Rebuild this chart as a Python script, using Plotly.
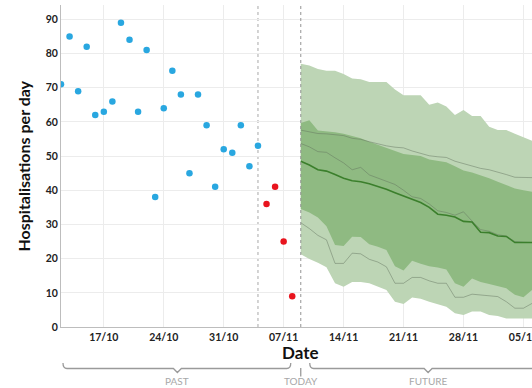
import pandas as pd
import plotly.graph_objects as go

# Observed daily hospitalisations
obs_dates = pd.date_range("2020-10-12", "2020-11-04")
obs_values = [71, 85, 69, 82, 62, 63, 66, 89, 84, 63, 81, 38,
              64, 75, 68, 45, 68, 59, 41, 52, 51, 59, 47, 53]

# Most recent (incomplete) days
recent_dates = pd.date_range("2020-11-05", "2020-11-08")
recent_values = [36, 41, 25, 9]

# Forecast from today onwards
fc_dates = pd.date_range("2020-11-09", "2020-12-06")
outer_upper = [77, 76.5, 75.5, 75, 75, 74, 72.7, 72.5, 71.7, 71.7, 71.7, 69.5, 67.8, 67.8,
               67.8, 65, 65.7, 64.5, 62, 63.5, 61.7, 61.7, 58.6, 57.6, 57.6, 56.5, 55.5, 54.5]
outer_lower = [21.3, 19.9, 18.8, 17.5, 12.8, 11.8, 13.2, 13.2, 12.8, 11.8, 10.8, 7.4, 6.7, 8.6,
               8.3, 7.4, 6.7, 5.9, 4, 3.5, 4.5, 4.5, 3.5, 3.2, 2.5, 2.5, 2.5, 2.5]
inner_upper = [59.7, 60.5, 57.5, 57.3, 57, 56.5, 55.8, 55.2, 54.2, 53.3, 52.3, 51.5, 50.6, 50.3,
               50, 49, 48.6, 48.2, 47, 45.8, 45.2, 44.4, 43.5, 42.5, 41.5, 40.5, 40, 39.6]
inner_lower = [34.5, 33.5, 32, 29.5, 24, 23.7, 26.4, 26.3, 24.2, 23.5, 22.5, 17.8, 16.5, 19.4,
               18.5, 17.8, 17.4, 16.8, 12.8, 11.8, 14.2, 13.2, 12.6, 12, 11.3, 9.4, 8.7, 10.8]
median = [48.5, 47.4, 46, 45.6, 44.6, 43.5, 42.8, 42.5, 41.9, 41.2, 40.3, 39.3, 38.4, 37.4,
          36.4, 35, 33, 32.7, 32.2, 30.9, 30.7, 27.7, 27.6, 26.6, 26.5, 24.7, 24.7, 24.7]
mean_line = [53.7, 52.7, 51.3, 51.1, 49.5, 48, 46, 46.7, 44.5, 43.5, 42.5, 41.7, 40, 38.1,
             37.6, 36, 34, 33.5, 32.7, 33.7, 31, 28.5, 28, 27, 26.6, 25, 24.8, 24.7]
high_line = [57.6, 57.2, 56.6, 56.5, 56.3, 56, 55.2, 54.9, 54.2, 53.5, 53, 52.6, 52.4, 51.5,
             50.8, 50.1, 49.8, 49.6, 48.5, 47.8, 47.2, 46.4, 46, 45.4, 44.6, 43.8, 43.7, 43.7]
low_line = [30.5, 28.8, 26.8, 25.5, 18.6, 18.6, 21.6, 21.4, 19.8, 19, 17.6, 12.8, 12.8, 14.5,
            14.5, 13.5, 12.8, 12.8, 8.7, 8.7, 9.6, 9.3, 9, 8.9, 7.4, 5.5, 5.5, 6.9]

tick_dates = pd.date_range("2020-10-17", "2020-12-05", freq="7D")
x_start, x_end = pd.Timestamp("2020-10-12"), pd.Timestamp("2020-12-06")
data_cutoff = pd.Timestamp("2020-11-04")
today = pd.Timestamp("2020-11-09")

FONT = "Lato"
LIGHT = "#bdd5b5"
DARK = "#8fba82"
THIN = "rgba(95,110,90,0.45)"

fig = go.Figure()


def band(upper, lower, color):
    fig.add_trace(go.Scatter(x=fc_dates, y=upper, mode="lines", line=dict(width=0),
                             hoverinfo="skip", showlegend=False))
    fig.add_trace(go.Scatter(x=fc_dates, y=lower, mode="lines", line=dict(width=0),
                             fill="tonexty", fillcolor=color, hoverinfo="skip",
                             showlegend=False))


band(outer_upper, outer_lower, LIGHT)
band(inner_upper, inner_lower, DARK)

for series in (high_line, mean_line, low_line):
    fig.add_trace(go.Scatter(x=fc_dates, y=series, mode="lines",
                             line=dict(color=THIN, width=1), showlegend=False))

fig.add_trace(go.Scatter(x=fc_dates, y=median, mode="lines",
                         line=dict(color="#3b7f2c", width=1.6), showlegend=False))

fig.add_trace(go.Scatter(x=obs_dates, y=obs_values, mode="markers",
                         marker=dict(color="#29a7e0", size=6.5), showlegend=False))
fig.add_trace(go.Scatter(x=recent_dates, y=recent_values, mode="markers",
                         marker=dict(color="#e8141e", size=6.5), showlegend=False))

# Vertical reference lines
fig.add_shape(type="line", xref="x", yref="paper", x0=data_cutoff, x1=data_cutoff,
              y0=0, y1=1, line=dict(color="#bdbdbd", width=1.3, dash="dot"), layer="below")
fig.add_shape(type="line", xref="x", yref="paper", x0=today, x1=today,
              y0=0, y1=1, line=dict(color="#949494", width=1, dash="dot"), layer="above")

# Layout geometry (pixels) used for the annotations under the axis
W, H = 532, 388
ML, MR, MT, MB = 60.5, 0, 5, 61
PW, PH = W - ML - MR, H - MT - MB


def px(x):
    return (x - ML) / PW


def py(y):
    return (H - MB - y) / PH


def brace(x0, x1, xm, ytop=363, ymid=368.5, ytip=372.5):
    r = 4
    path = (f"M {px(x0)},{py(ytop)} Q {px(x0)},{py(ymid)} {px(x0 + r)},{py(ymid)} "
            f"L {px(xm - 4)},{py(ymid)} L {px(xm)},{py(ytip)} L {px(xm + 4)},{py(ymid)} "
            f"L {px(x1 - r)},{py(ymid)} Q {px(x1)},{py(ymid)} {px(x1)},{py(ytop)}")
    fig.add_shape(type="path", xref="paper", yref="paper", path=path,
                  line=dict(color="#9a9a9a", width=1.3))


brace(62.5, 290.5, 177)
brace(309.5, 560, 428)
fig.add_shape(type="line", xref="paper", yref="paper", x0=px(300.5), x1=px(300.5),
              y0=py(368), y1=py(376.5), line=dict(color="#9a9a9a", width=1.3))

for label, xc in (("PAST", 177), ("TODAY", 300.5), ("FUTURE", 428)):
    fig.add_annotation(x=px(xc), y=py(381), xref="paper", yref="paper", text=label,
                       showarrow=False, xanchor="center", yanchor="middle",
                       font=dict(family=FONT, size=10, color="#a8a8a8"))

fig.add_annotation(x=px(300.5), y=py(352), xref="paper", yref="paper", text="Date",
                   showarrow=False, xanchor="center", yanchor="middle",
                   font=dict(family=FONT, size=17, color="#111111", weight="bold"))
fig.add_annotation(x=px(22), y=py(166), xref="paper", yref="paper",
                   text="Hospitalisations per day", textangle=-90,
                   showarrow=False, xanchor="center", yanchor="middle",
                   font=dict(family=FONT, size=16, color="#111111", weight="bold"))

fig.update_layout(
    width=W, height=H,
    margin=dict(l=ML, r=MR, t=MT, b=MB, pad=0, autoexpand=False),
    paper_bgcolor="white", plot_bgcolor="white",
    font=dict(family=FONT),
    showlegend=False,
    xaxis=dict(range=[x_start, x_end], tickvals=tick_dates,
               ticktext=[d.strftime("%d/%m") for d in tick_dates],
               ticklabeloverflow="allow", automargin=False,
               showgrid=True, gridcolor="#ececec", gridwidth=1,
               showline=True, linecolor="#bdbdbd", linewidth=1,
               zeroline=False, ticks="",
               tickfont=dict(family=FONT, size=10.5, color="#222222", weight="bold")),
    yaxis=dict(range=[0, 94.2], tickvals=list(range(0, 100, 10)), automargin=False,
               showgrid=True, gridcolor="#ececec", gridwidth=1,
               showline=True, linecolor="#bdbdbd", linewidth=1,
               zeroline=False, ticks="",
               tickfont=dict(family=FONT, size=10.5, color="#222222", weight="bold")),
)

fig.write_html("out.html")
